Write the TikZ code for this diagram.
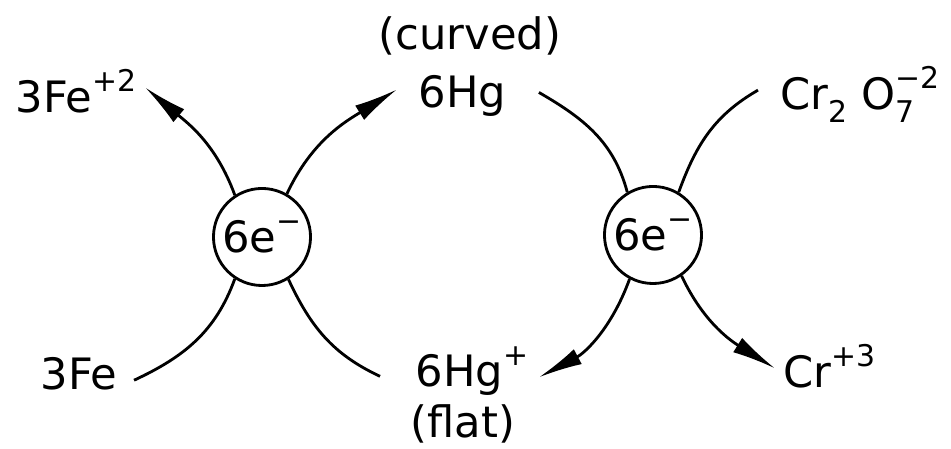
\documentclass[tikz,border=0pt]{standalone}
\usepackage{fontspec}
\setmainfont{DejaVu Sans}
\usetikzlibrary{arrows.meta}
\newcommand\chg[1]{\raisebox{0.5em}{\fontsize{8.5}{9}\selectfont #1}}
\newcommand\low[1]{\raisebox{-0.28em}{\fontsize{8.5}{9}\selectfont #1}}
\begin{document}
\begin{tikzpicture}[x=0.01cm,y=0.01cm,
    lbl/.style={inner sep=0pt,anchor=base west,font=\fontsize{12.3}{14}\selectfont},
    pool/.style={draw,circle,line width=0.8pt,minimum size=0.97cm,inner sep=0pt,
        font=\fontsize{12.3}{14}\selectfont},
    flow/.style={line width=0.8pt},
    arr/.style={flow,-{Latex[length=12.5pt,width=4.8pt]}}]
    \useasboundingbox (0,0) rectangle (951,449);

    % Electron pools
    \node[pool] (eL) at (262,212) {6e\chg{−}};
    \node[pool] (eR) at (653,214) {6e\chg{−}};

    % Species
    \node[lbl] (fe2) at (15,336) {3Fe\chg{+2}};
    \node[lbl] (curved) at (378,399) {(curved)};
    \node[lbl] (hg) at (418,341) {6Hg};
    \node[lbl] (cro) at (780,339) {Cr\low{2} O\rlap{\low{7}}\chg{−2}};
    \node[lbl] (fe) at (40,59) {3Fe};
    \node[lbl] (hgp) at (415,62) {6Hg\chg{+}};
    \node[lbl] (flat) at (410,11) {(flat)};
    \node[lbl] (cr3) at (783,61) {Cr\chg{+3}};

    % Left couple: Fe / Hg
    \draw[arr] (eL.123) to[out=110,in=-40] ([shift={(8,4)}]fe2.east);
    \draw[arr] (eL.60) to[out=65,in=212] ([shift={(-21,7)}]hg.west);
    \draw[flow] (eL.237) to[out=250,in=25] ([shift={(16,-6)}]fe.east);
    \draw[flow] (eL.302) to[out=295,in=155] ([shift={(-35,-5)}]hgp.west);

    % Right couple: Hg / Cr
    \draw[flow] (eR.121) to[out=105,in=-30] ([shift={(32,4)}]hg.east);
    \draw[flow] (eR.59) to[out=70,in=210] ([shift={(-22,4)}]cro.west);
    \draw[arr] (eR.242) to[out=250,in=28] ([shift={(10,-6)}]hgp.east);
    \draw[arr] (eR.305) to[out=295,in=148] ([shift={(-8,-2)}]cr3.west);
\end{tikzpicture}
\end{document}
